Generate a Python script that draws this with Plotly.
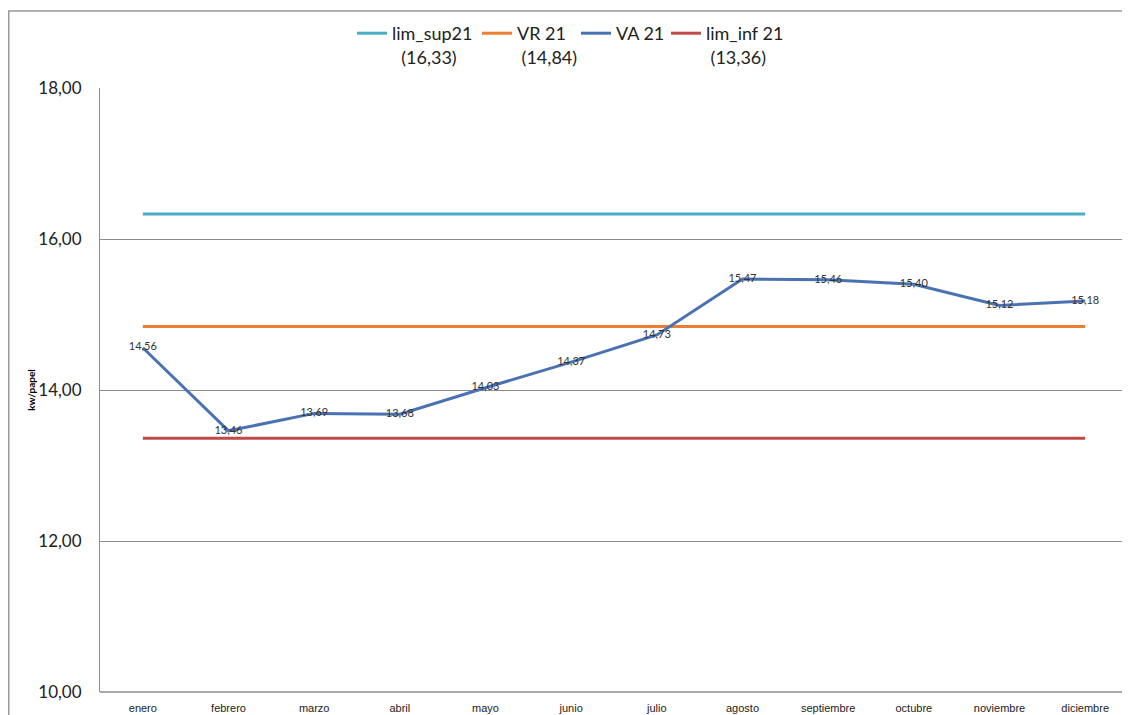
import plotly.graph_objects as go

meses = ["enero", "febrero", "marzo", "abril", "mayo", "junio", "julio",
         "agosto", "septiembre", "octubre", "noviembre", "diciembre"]
va_21 = [14.56, 13.46, 13.69, 13.68, 14.03, 14.37, 14.73, 15.47, 15.46, 15.40, 15.12, 15.18]
lim_sup21 = [16.33] * 12
vr_21 = [14.84] * 12
lim_inf21 = [13.36] * 12

COLORS = {
    "sup": "#4BACC6",
    "vr": "#ED7D31",
    "va": "#4A72B2",
    "inf": "#BE4B48",
    "grid": "#8C8C8C",
    "text": "#222222",
}

# the page body has a default 8px margin, so the figure is drawn 8px in
OFF = 8
W, H = 1130 - OFF, 715 - OFF
M = dict(l=100 - OFF, r=2, t=88 - OFF, b=23, autoexpand=False)
pw = W - M["l"] - M["r"]
ph = H - M["t"] - M["b"]


def px_x(p):
    # screen pixel -> paper x
    return (p - OFF - M["l"]) / pw


def px_y(p):
    # screen pixel -> paper y
    return (H - M["b"] - (p - OFF)) / ph


NB = "\u00a0"
fig = go.Figure()
fig.add_trace(go.Scatter(x=meses, y=lim_sup21, mode="lines", legend="legend",
                         name="lim_sup21<br>" + NB * 2 + "(16,33)",
                         line=dict(color=COLORS["sup"], width=3)))
fig.add_trace(go.Scatter(x=meses, y=vr_21, mode="lines", legend="legend2",
                         name="VR 21<br>" + NB + "(14,84)",
                         line=dict(color=COLORS["vr"], width=3)))
fig.add_trace(go.Scatter(x=meses, y=va_21, mode="lines+text", legend="legend3",
                         name="VA 21",
                         line=dict(color=COLORS["va"], width=3),
                         texttemplate="%{y:.2f}", textposition="middle center",
                         textfont=dict(size=11, color="#333333", family="Lato")))
fig.add_trace(go.Scatter(x=meses, y=lim_inf21, mode="lines", legend="legend4",
                         name="lim_inf 21<br>" + NB + "(13,36)",
                         line=dict(color=COLORS["inf"], width=3)))


def legend_at(text_x):
    # place a legend so its label starts near text_x (screen px)
    return dict(x=px_x(text_x - 41), xanchor="left",
                y=px_y(15), yanchor="top",
                font=dict(size=18, family="Lato", color=COLORS["text"]),
                itemwidth=30, valign="top", bgcolor="rgba(0,0,0,0)")


fig.update_layout(
    width=W, height=H,
    margin=M,
    paper_bgcolor="white",
    plot_bgcolor="white",
    separators=",.",
    font=dict(family="Lato", color=COLORS["text"]),
    showlegend=True,
    legend=legend_at(393),
    legend2=legend_at(518),
    legend3=legend_at(617),
    legend4=legend_at(707),
    xaxis=dict(type="category", showgrid=False, showline=False, zeroline=False,
               automargin=False, ticks="", ticklabelstandoff=8,
               tickfont=dict(size=11, family="Liberation Sans", color=COLORS["text"]),
               range=[-0.5, 11.5]),
    yaxis=dict(range=[10, 18], dtick=2, tickformat=".2f",
               showgrid=True, gridcolor=COLORS["grid"], gridwidth=1,
               showline=True, linecolor=COLORS["grid"], linewidth=1,
               zeroline=False, ticks="", automargin=False,
               ticklabelstandoff=14,
               tickfont=dict(size=17, family="Lato", color=COLORS["text"]),
               title=dict(text="<b>kw/papel</b>", standoff=0,
                          font=dict(size=10, family="Lato", color="#000000"))),
    shapes=[
        dict(type="line", xref="paper", yref="paper", x0=0, x1=1, y0=0, y1=0,
             line=dict(color=COLORS["grid"], width=1.5)),
        dict(type="line", xref="paper", yref="paper", x0=px_x(OFF), x1=px_x(1130),
             y0=px_y(11), y1=px_y(11), line=dict(color="#999999", width=1.5)),
        dict(type="line", xref="paper", yref="paper", x0=px_x(OFF + 0.75), x1=px_x(OFF + 0.75),
             y0=px_y(11), y1=px_y(715), line=dict(color="#999999", width=1.5)),
    ],
)

fig.write_html("out.html", config={"displayModeBar": False})
